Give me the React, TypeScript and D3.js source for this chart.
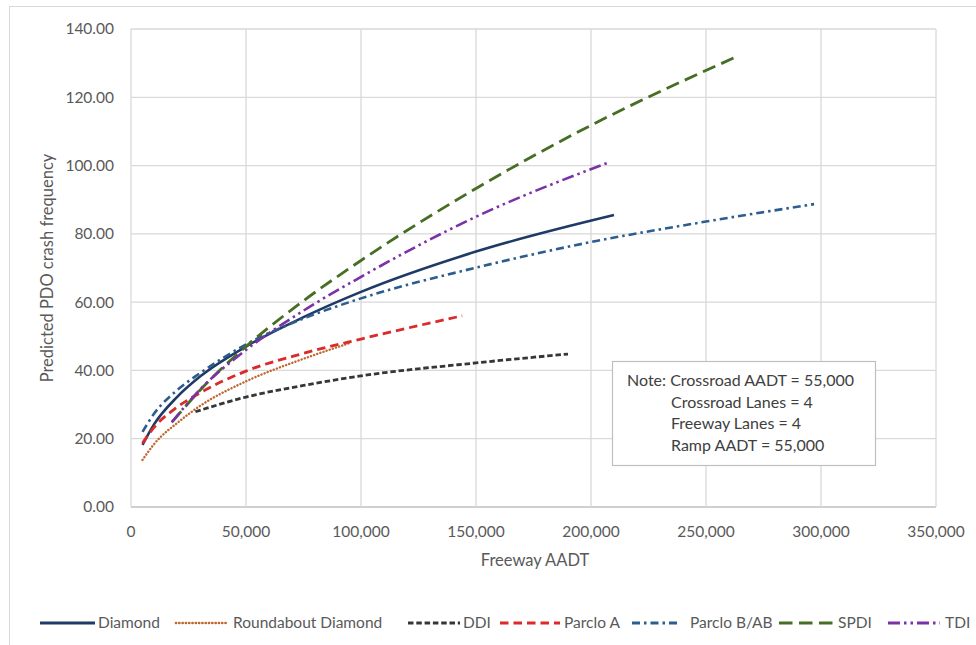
import React from "react";
import * as d3 from "d3";

// ---- data ----
const xTicks = [0, 50000, 100000, 150000, 200000, 250000, 300000, 350000];
const yTicks = [0, 20, 40, 60, 80, 100, 120, 140];

const diamond: [number, number][] = [
  [5000, 18.2], [10000, 24.2], [20000, 32.2], [30000, 38.2], [50000, 47], [75000, 55.6],
  [100000, 63], [150000, 74.8], [210000, 85.5],
];
const roundabout: [number, number][] = [
  [5000, 13.8], [10000, 18.4], [21000, 25.1], [30000, 29.6], [50000, 36.8], [75000, 43.4], [95000, 48],
];
const ddi: [number, number][] = [
  [28000, 27.9], [50000, 32.2], [75000, 35.6], [100000, 38.4], [150000, 42.2], [190000, 44.8],
];
const parcloA: [number, number][] = [
  [5000, 18.7], [10000, 23.3], [20000, 29.2], [30000, 33.4], [50000, 39.8], [75000, 45], [100000, 49.2], [144000, 56],
];
const parcloB: [number, number][] = [
  [5000, 22], [10000, 27.3], [20000, 34.2], [30000, 39.2], [50000, 47.6], [75000, 55.2],
  [100000, 61.1], [150000, 70.1], [200000, 77.6], [250000, 83.6], [297000, 88.7],
];
const spdi: [number, number][] = [
  [18000, 25], [30000, 34.2], [50000, 47], [75000, 60.4], [100000, 72.2], [150000, 93.3],
  [200000, 111.8], [262000, 131.5],
];
const tdi: [number, number][] = [
  [17700, 24.8], [30000, 34.4], [50000, 46], [75000, 57.5], [100000, 67.4], [150000, 85],
  [208000, 101],
];

const seriesNames = ["Diamond", "Roundabout Diamond", "DDI", "Parclo A", "Parclo B/AB", "SPDI", "TDI"];
const seriesData = [diamond, roundabout, ddi, parcloA, parcloB, spdi, tdi];
const noteLines = ["Crossroad AADT = 55,000", "Crossroad Lanes = 4", "Freeway Lanes = 4", "Ramp AADT = 55,000"];

// ---- styles ----
const styles = [
  { color: "#1F3A66", dash: "", width: 2.6, cap: "butt" },
  { color: "#C0662E", dash: "0.1 3.2", width: 2.4, cap: "round" },
  { color: "#363636", dash: "5.5 2.8", width: 2.8, cap: "butt" },
  { color: "#DA2A2A", dash: "8.5 5", width: 2.8, cap: "butt" },
  { color: "#2B5E8E", dash: "8 4 2.5 4", width: 2.6, cap: "butt" },
  { color: "#466E24", dash: "13.5 6.5", width: 2.8, cap: "butt" },
  { color: "#7A32A6", dash: "12 4 2.5 4 2.5 4", width: 2.6, cap: "butt" },
];

const FONT = "Lato, 'Open Sans', sans-serif";
const W = 976, H = 645;
const M = { left: 131, right: 936, top: 29, bottom: 507 };

export default function App() {
  const x = d3.scaleLinear().domain([0, 350000]).range([M.left, M.right]);
  const y = d3.scaleLinear().domain([0, 140]).range([M.bottom, M.top]);
  const line = d3.line<[number, number]>().x(d => x(d[0])).y(d => y(d[1])).curve(d3.curveMonotoneX);
  const fmtX = d3.format(",");
  const fmtY = d3.format(".2f");

  const legendItems = [
    { lx: 40, lw: 55, tx: 98 },
    { lx: 176, lw: 52, tx: 233 },
    { lx: 408, lw: 52, tx: 463 },
    { lx: 500, lw: 60, tx: 564 },
    { lx: 632, lw: 48, tx: 690 },
    { lx: 779, lw: 56, tx: 838 },
    { lx: 888, lw: 52, tx: 945 },
  ];
  const legendY = 623;

  return (
    <svg width={W} height={H} style={{ position: "absolute", left: 0, top: 0, background: "#fff" }}>
      <rect x={9.5} y={6.5} width={980} height={660} fill="#fff" stroke="#d9d9d9" />
      {/* gridlines */}
      {yTicks.map(t => (
        <line key={"gy" + t} x1={M.left} x2={M.right} y1={y(t)} y2={y(t)}
          stroke={t === 0 ? "#bfbfbf" : "#d9d9d9"} strokeWidth={1.3} />
      ))}
      {xTicks.map(t => (
        <line key={"gx" + t} x1={x(t)} x2={x(t)} y1={M.top} y2={M.bottom} stroke="#d9d9d9" strokeWidth={1.3} />
      ))}
      {/* tick labels */}
      {yTicks.map(t => (
        <text key={"ty" + t} x={114} y={y(t)} dy="0.35em" textAnchor="end" fontFamily={FONT} fontSize={15.5} fill="#595959">
          {fmtY(t)}
        </text>
      ))}
      {xTicks.map(t => (
        <text key={"tx" + t} x={x(t)} y={537} textAnchor="middle" fontFamily={FONT} fontSize={15.5} fill="#595959">
          {fmtX(t)}
        </text>
      ))}
      {/* axis titles */}
      <text x={535} y={566} textAnchor="middle" fontFamily={FONT} fontSize={16.5} fill="#595959">Freeway AADT</text>
      <text transform="translate(53,268) rotate(-90)" textAnchor="middle" fontFamily={FONT} fontSize={16.5} fill="#595959">
        Predicted PDO crash frequency
      </text>
      {/* series */}
      {seriesData.map((d, i) => (
        <path key={"s" + i} d={line(d) || ""} fill="none" stroke={styles[i].color} strokeWidth={styles[i].width}
          strokeDasharray={styles[i].dash || undefined} strokeLinecap={styles[i].cap as any} />
      ))}
      {/* note box */}
      <rect x={612.5} y={361.5} width={263} height={104} fill="#fff" stroke="#bfbfbf" strokeWidth={1.2} />
      <text x={627} y={386} fontFamily={FONT} fontSize={16} fill="#404040">Note: {noteLines[0]}</text>
      {noteLines.slice(1).map((s, i) => (
        <text key={"n" + i} x={671} y={386 + 21.7 * (i + 1)} fontFamily={FONT} fontSize={16} fill="#404040">{s}</text>
      ))}
      {/* legend */}
      {seriesNames.map((n, i) => (
        <g key={"l" + i}>
          <line x1={legendItems[i].lx} x2={legendItems[i].lx + legendItems[i].lw} y1={legendY} y2={legendY}
            stroke={styles[i].color} strokeWidth={styles[i].width + 0.3} strokeDasharray={styles[i].dash || undefined}
            strokeLinecap={styles[i].cap as any} />
          <text x={legendItems[i].tx} y={legendY} dy="0.35em" fontFamily={FONT} fontSize={15.5} fill="#595959">{n}</text>
        </g>
      ))}
    </svg>
  );
}
